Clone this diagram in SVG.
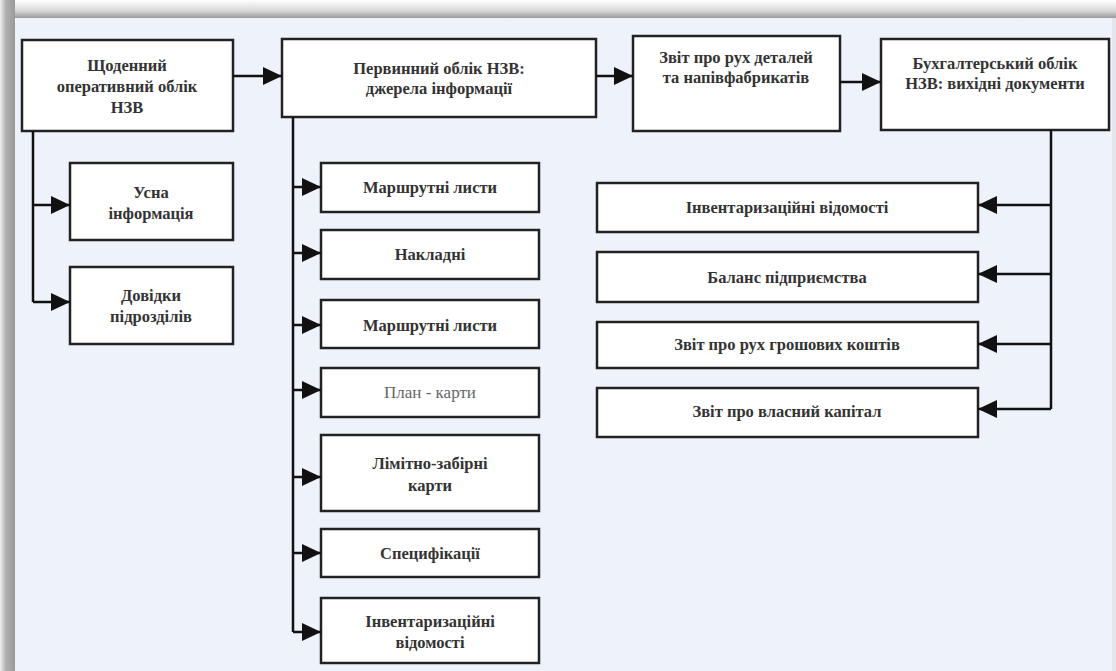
<svg xmlns="http://www.w3.org/2000/svg" width="1116" height="671" viewBox="0 0 1116 671">
<defs>
<marker id="ah" markerUnits="userSpaceOnUse" markerWidth="22" markerHeight="22" refX="19" refY="9" orient="auto">
<path d="M0,0 L19,9 L0,18 z" fill="#111"/>
</marker>
<linearGradient id="topsh" x1="0" y1="0" x2="0" y2="1">
<stop offset="0" stop-color="#ffffff"/>
<stop offset="0.6" stop-color="#d8d8d8"/>
<stop offset="1" stop-color="#9a9a9a"/>
</linearGradient>
<linearGradient id="leftsh" x1="0" y1="0" x2="1" y2="0">
<stop offset="0" stop-color="#f0f0f0"/>
<stop offset="0.4" stop-color="#b0b0b0"/>
<stop offset="1" stop-color="#9a9a9a"/>
</linearGradient>
</defs>
<style>
.box{fill:#ffffff;stroke:#222;stroke-width:2.5}
.t{font-family:"Liberation Serif","Times New Roman",serif;font-size:16.5px;font-weight:bold;fill:#333;text-anchor:middle}
.tn{font-family:"Liberation Serif","Times New Roman",serif;font-size:17px;font-weight:normal;fill:#666;text-anchor:middle}
.c{fill:none;stroke:#111;stroke-width:2.5}
</style>
<rect x="0" y="0" width="1116" height="671" fill="#f7f7f7"/>
<rect x="0" y="0" width="1116" height="18" fill="url(#topsh)"/>
<rect x="0" y="0" width="15" height="671" fill="url(#leftsh)"/>
<rect x="15" y="18" width="1101" height="653" fill="#eef2fb"/>
<rect x="1112" y="18" width="4" height="653" fill="#e4e6ec"/>

<g id="n-daily">
<rect class="box" x="22" y="40" width="211" height="91"/>
<text class="t" x="127" y="71">Щоденний</text>
<text class="t" x="127" y="92">оперативний облік</text>
<text class="t" x="127" y="113">НЗВ</text>
</g>
<g id="n-oral">
<rect class="box" x="70" y="163" width="163" height="77"/>
<text class="t" x="151" y="198">Усна</text>
<text class="t" x="151" y="219">інформація</text>
</g>
<g id="n-refs">
<rect class="box" x="70" y="267" width="163" height="77"/>
<text class="t" x="151" y="301">Довідки</text>
<text class="t" x="151" y="322">підрозділів</text>
</g>
<g id="n-primary">
<rect class="box" x="282" y="39" width="314" height="78"/>
<text class="t" x="439" y="74">Первинний облік НЗВ:</text>
<text class="t" x="439" y="94">джерела інформації</text>
</g>
<g id="n-route1">
<rect class="box" x="321" y="163" width="218" height="49"/>
<text class="t" x="430" y="193">Маршрутні листи</text>
</g>
<g id="n-invoices">
<rect class="box" x="321" y="230" width="218" height="49"/>
<text class="t" x="430" y="260">Накладні</text>
</g>
<g id="n-route2">
<rect class="box" x="321" y="300" width="218" height="48"/>
<text class="t" x="430" y="331">Маршрутні листи</text>
</g>
<g id="n-plan">
<rect class="box" x="321" y="368" width="218" height="49"/>
<text class="tn" x="430" y="398">План - карти</text>
</g>
<g id="n-limit">
<rect class="box" x="321" y="435" width="218" height="76"/>
<text class="t" x="430" y="469">Лімітно-забірні</text>
<text class="t" x="430" y="491">карти</text>
</g>
<g id="n-spec">
<rect class="box" x="321" y="529" width="218" height="48"/>
<text class="t" x="430" y="559">Специфікації</text>
</g>
<g id="n-inv1">
<rect class="box" x="321" y="598" width="218" height="65"/>
<text class="t" x="430" y="627">Інвентаризаційні</text>
<text class="t" x="430" y="648">відомості</text>
</g>
<g id="n-report">
<rect class="box" x="633" y="36" width="207" height="95"/>
<text class="t" x="736" y="63">Звіт про рух деталей</text>
<text class="t" x="736" y="83">та напівфабрикатів</text>
</g>
<g id="n-accounting">
<rect class="box" x="881" y="39" width="228" height="91"/>
<text class="t" x="995" y="69">Бухгалтерський облік</text>
<text class="t" x="995" y="89">НЗВ: вихідні документи</text>
</g>
<g id="n-inv2">
<rect class="box" x="597" y="183" width="381" height="49"/>
<text class="t" x="787" y="213">Інвентаризаційні відомості</text>
</g>
<g id="n-balance">
<rect class="box" x="597" y="252" width="381" height="50"/>
<text class="t" x="787" y="283">Баланс підприємства</text>
</g>
<g id="n-cash">
<rect class="box" x="597" y="322" width="381" height="46"/>
<text class="t" x="787" y="350">Звіт про рух грошових коштів</text>
</g>
<g id="n-equity">
<rect class="box" x="597" y="388" width="381" height="49"/>
<text class="t" x="787" y="417">Звіт про власний капітал</text>
</g>

<g id="connectors">
<line class="c" x1="233" y1="76" x2="282" y2="76" marker-end="url(#ah)"/>
<path class="c" d="M33,131 V302"/>
<line class="c" x1="33" y1="205" x2="70" y2="205" marker-end="url(#ah)"/>
<path class="c" d="M33,302 H70" marker-end="url(#ah)"/>
<path class="c" d="M293,117 V632"/>
<line class="c" x1="293" y1="187" x2="321" y2="187" marker-end="url(#ah)"/>
<line class="c" x1="293" y1="253" x2="321" y2="253" marker-end="url(#ah)"/>
<line class="c" x1="293" y1="325" x2="321" y2="325" marker-end="url(#ah)"/>
<line class="c" x1="293" y1="390" x2="321" y2="390" marker-end="url(#ah)"/>
<line class="c" x1="293" y1="477" x2="321" y2="477" marker-end="url(#ah)"/>
<line class="c" x1="293" y1="553" x2="321" y2="553" marker-end="url(#ah)"/>
<path class="c" d="M293,632 H321" marker-end="url(#ah)"/>
<line class="c" x1="596" y1="76" x2="633" y2="76" marker-end="url(#ah)"/>
<line class="c" x1="840" y1="82" x2="881" y2="82" marker-end="url(#ah)"/>
<path class="c" d="M1051,130 V409"/>
<line class="c" x1="1051" y1="205" x2="978" y2="205" marker-end="url(#ah)"/>
<line class="c" x1="1051" y1="274" x2="978" y2="274" marker-end="url(#ah)"/>
<line class="c" x1="1051" y1="344" x2="978" y2="344" marker-end="url(#ah)"/>
<path class="c" d="M1051,409 H978" marker-end="url(#ah)"/>
</g>
</svg>
